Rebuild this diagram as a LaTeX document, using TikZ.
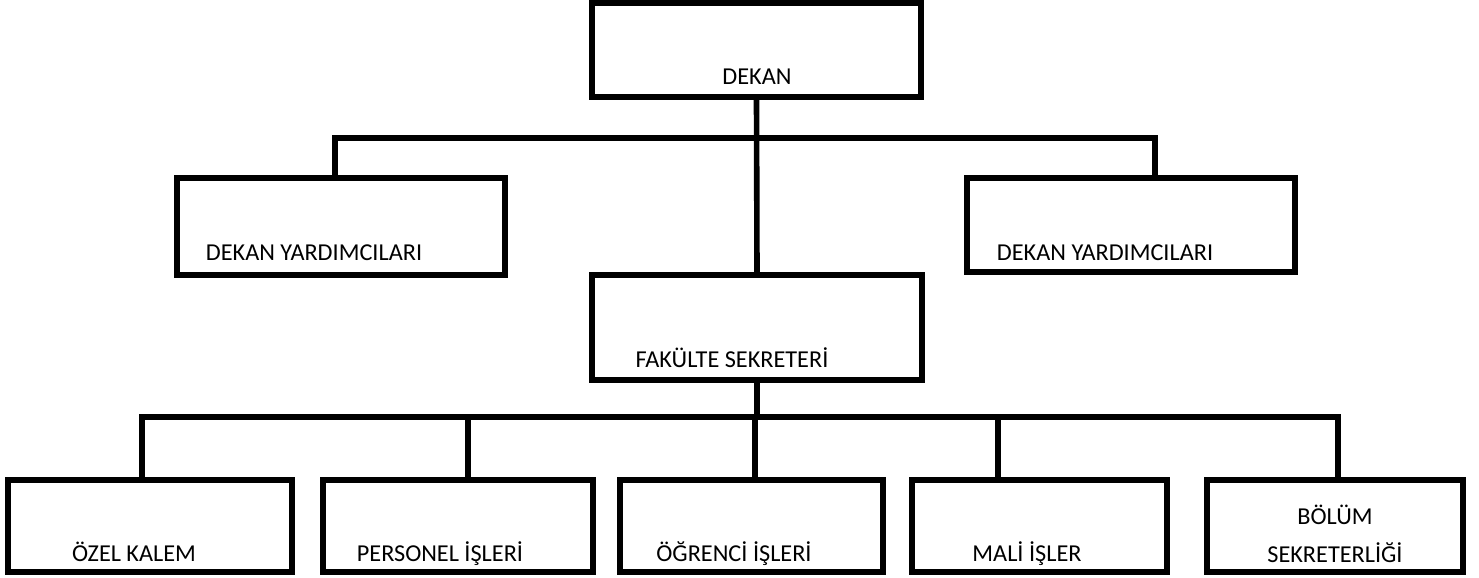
\documentclass[tikz,border=0pt]{standalone}
\usepackage{fontspec}
\setmainfont{Carlito}
\begin{document}
\begin{tikzpicture}[x=0.75pt,y=-0.75pt,
  box/.style={draw, line width=4.2pt, inner sep=0pt, rectangle},
  sz/.style 2 args={minimum width=#1*0.75pt, minimum height=#2*0.75pt},
  lbl/.style={font=\fontsize{18.2}{22}\selectfont, anchor=base, inner sep=0pt},
  conn/.style={line width=4.2pt}]
\useasboundingbox (0,0) rectangle (1479,578);
% boxes
\node[box, sz={329}{94}]  (dekan) at (756.5,50) {};
\node[box, sz={328}{97}]  (dy1)   at (341,226.5) {};
\node[box, sz={328}{94}]  (dy2)   at (1131,225) {};
\node[box, sz={330}{105}] (fak)   at (757,327.5) {};
\node[box, sz={284}{92}]  (b1)    at (150,526) {};
\node[box, sz={270}{92}]  (b2)    at (458,526) {};
\node[box, sz={263}{92}]  (b3)    at (751.5,526) {};
\node[box, sz={255}{92}]  (b4)    at (1039.5,526) {};
\node[box, sz={256}{92}]  (b5)    at (1335,526) {};
% labels
\node[lbl] (tdekan) at (757,84) {DEKAN};
\node[lbl] (tdy1) at (314,260) {DEKAN YARDIMCILARI};
\node[lbl] (tdy2) at (1105,260) {DEKAN YARDIMCILARI};
\node[lbl] (tfak) at (732,367) {FAKÜLTE SEKRETERİ};
\node[lbl] (tb1) at (134,561) {ÖZEL KALEM};
\node[lbl] (tb2) at (440,561) {PERSONEL İŞLERİ};
\node[lbl] (tb3) at (734,561) {ÖĞRENCİ İŞLERİ};
\node[lbl] (tb4) at (1027,561) {MALİ İŞLER};
\node[lbl] (tb5a) at (1335,524) {BÖLÜM};
\node[lbl] (tb5b) at (1335,562) {SEKRETERLİĞİ};
% connectors
\coordinate (bar1) at (758,138);
\coordinate (bar2) at (757,417);
\draw[conn] (dekan.south) -- (fak.north);
\draw[conn] ([xshift=-4.5pt]dy1.north) |- (bar1) -| ([xshift=18pt]dy2.north);
\draw[conn] (fak.south) -- (bar2);
\draw[conn] ([xshift=-6pt]b1.north) |- (bar2) -| ([xshift=2.25pt]b5.north);
\draw[conn] ([xshift=7.5pt]b2.north) -- ([xshift=7.5pt]b2.north |- bar2);
\draw[conn] ([xshift=2.6pt]b3.north) -- ([xshift=2.6pt]b3.north |- bar2);
\draw[conn] ([xshift=-31.1pt]b4.north) -- ([xshift=-31.1pt]b4.north |- bar2);
\end{tikzpicture}
\end{document}
